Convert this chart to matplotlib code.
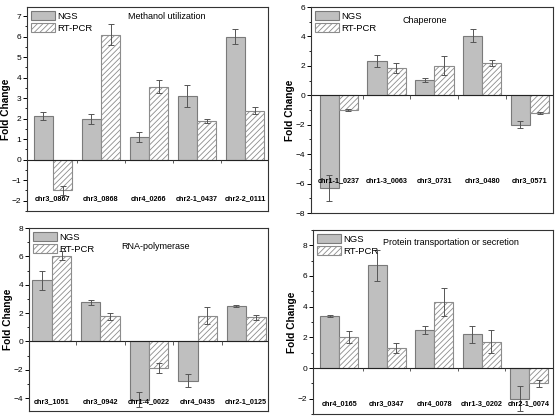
import matplotlib
matplotlib.use('Agg')
import matplotlib.pyplot as plt
import matplotlib.ticker as ticker
from matplotlib.patches import Patch
import numpy as np

plt.rcParams['font.family'] = ['Liberation Sans', 'DejaVu Sans']
plt.rcParams['hatch.color'] = '#8c8c8c'
plt.rcParams['hatch.linewidth'] = 0.6

W, H = 558, 419

# methanol utilization
genes1 = ['chr3_0867', 'chr3_0868', 'chr4_0266', 'chr2-1_0437', 'chr2-2_0111']
ngs1 = [2.15, 2.0, 1.1, 3.1, 6.0]
ngs1_err = [0.2, 0.25, 0.25, 0.55, 0.37]
rt1 = [-1.5, 6.1, 3.57, 1.9, 2.4]
rt1_err = [0.22, 0.5, 0.32, 0.1, 0.15]

# chaperone
genes2 = ['chr1-1_0237', 'chr1-3_0063', 'chr3_0731', 'chr3_0480', 'chr3_0571']
ngs2 = [-6.3, 2.35, 1.05, 4.05, -2.0]
ngs2_err = [0.9, 0.4, 0.15, 0.45, 0.22]
rt2 = [-1.0, 1.85, 2.0, 2.2, -1.2]
rt2_err = [0.05, 0.35, 0.65, 0.2, 0.05]

# RNA-polymerase
genes3 = ['chr3_1051', 'chr3_0942', 'chr1-4_0022', 'chr4_0435', 'chr2-1_0125']
ngs3 = [4.3, 2.75, -4.1, -2.75, 2.5]
ngs3_err = [0.7, 0.2, 0.55, 0.45, 0.1]
rt3 = [6.05, 1.78, -1.85, 1.8, 1.7]
rt3_err = [0.3, 0.25, 0.35, 0.6, 0.2]

# protein transportation
genes4 = ['chr4_0165', 'chr3_0347', 'chr4_0078', 'chr1-3_0202', 'chr2-1_0074']
ngs4 = [3.4, 6.7, 2.5, 2.2, -2.0]
ngs4_err = [0.05, 1.0, 0.25, 0.55, 0.8]
rt4 = [2.0, 1.3, 4.3, 1.7, -1.0]
rt4_err = [0.4, 0.3, 0.9, 0.75, 0.25]

panels = [
    dict(box=(27, 268, 7, 211), ylim=(-2.5, 7.45), xlim=(-0.54, 4.48), step=1,
         title='Methanol utilization', txy=(0.58, 0.955), ly=-1.9,
         genes=genes1, ngs=ngs1, ngs_err=ngs1_err, rt=rt1, rt_err=rt1_err),
    dict(box=(311, 553, 7, 213), ylim=(-8, 6), xlim=(-0.58, 4.48), step=2,
         title='Chaperone', txy=(0.47, 0.935), ly=-5.8,
         genes=genes2, ngs=ngs2, ngs_err=ngs2_err, rt=rt2, rt_err=rt2_err),
    dict(box=(29, 268, 228, 411), ylim=(-4.9, 8), xlim=(-0.47, 4.45), step=2,
         title='RNA-polymerase', txy=(0.53, 0.9), ly=-4.25,
         genes=genes3, ngs=ngs3, ngs_err=ngs3_err, rt=rt3, rt_err=rt3_err),
    dict(box=(313, 553, 230, 414), ylim=(-3, 9), xlim=(-0.55, 4.5), step=2,
         title='Protein transportation or secretion', txy=(0.575, 0.93), ly=-2.35,
         genes=genes4, ngs=ngs4, ngs_err=ngs4_err, rt=rt4, rt_err=rt4_err),
]

fig = plt.figure(figsize=(W / 100, H / 100), dpi=100)
bw = 0.4
ekw = dict(ecolor='#555555', elinewidth=0.7, capsize=2, capthick=0.7)

for p in panels:
    l, r, t, b = p['box']
    ax = fig.add_axes([l / W, 1 - b / H, (r - l) / W, (b - t) / H])
    x = np.arange(len(p['genes']))
    ax.bar(x - bw / 2, p['ngs'], bw, color='#bfbfbf', edgecolor='#7a7a7a', lw=0.8,
           yerr=p['ngs_err'], error_kw=ekw)
    ax.bar(x + bw / 2, p['rt'], bw, color='white', edgecolor='#8c8c8c', hatch='//////', lw=0.8,
           yerr=p['rt_err'], error_kw=ekw)
    ax.set_xlim(*p['xlim'])
    ax.set_ylim(*p['ylim'])
    ax.axhline(0, color='#222222', lw=0.8)

    # small ticks under the zero line between groups
    tl = 0.018 * (p['ylim'][1] - p['ylim'][0])
    ax.vlines(x[:-1] + 0.5, -tl, 0, color='#444444', lw=0.6)

    ax.set_xticks([])
    ax.yaxis.set_major_locator(ticker.MultipleLocator(p['step']))
    ax.yaxis.set_minor_locator(ticker.MultipleLocator(p['step'] / 2))
    ax.tick_params(axis='y', which='major', direction='out', length=3, width=0.7, labelsize=6, pad=1)
    ax.tick_params(axis='y', which='minor', direction='out', length=1.8, width=0.6)
    for s in ax.spines.values():
        s.set_linewidth(0.8)
        s.set_color('#333333')
    ax.set_ylabel('Fold Change', fontsize=7.3, fontweight='bold', labelpad=0.5)

    for xi, g in zip(x, p['genes']):
        ax.text(xi, p['ly'], g, ha='center', va='center', fontsize=5.2, fontweight='bold')

    ax.text(p['txy'][0], p['txy'][1], p['title'], transform=ax.transAxes,
            ha='center', va='center', fontsize=6.5)

    handles = [Patch(facecolor='#bfbfbf', edgecolor='#7a7a7a', lw=0.8, label='NGS'),
               Patch(facecolor='white', edgecolor='#8c8c8c', hatch='//////', lw=0.8, label='RT-PCR')]
    ax.legend(handles=handles, loc='upper left', frameon=False, fontsize=6.8,
              handlelength=2.6, handleheight=1.1, handletextpad=0.2,
              labelspacing=0.25, borderaxespad=0.2, borderpad=0.2)

fig.savefig('out.png', dpi=100)
